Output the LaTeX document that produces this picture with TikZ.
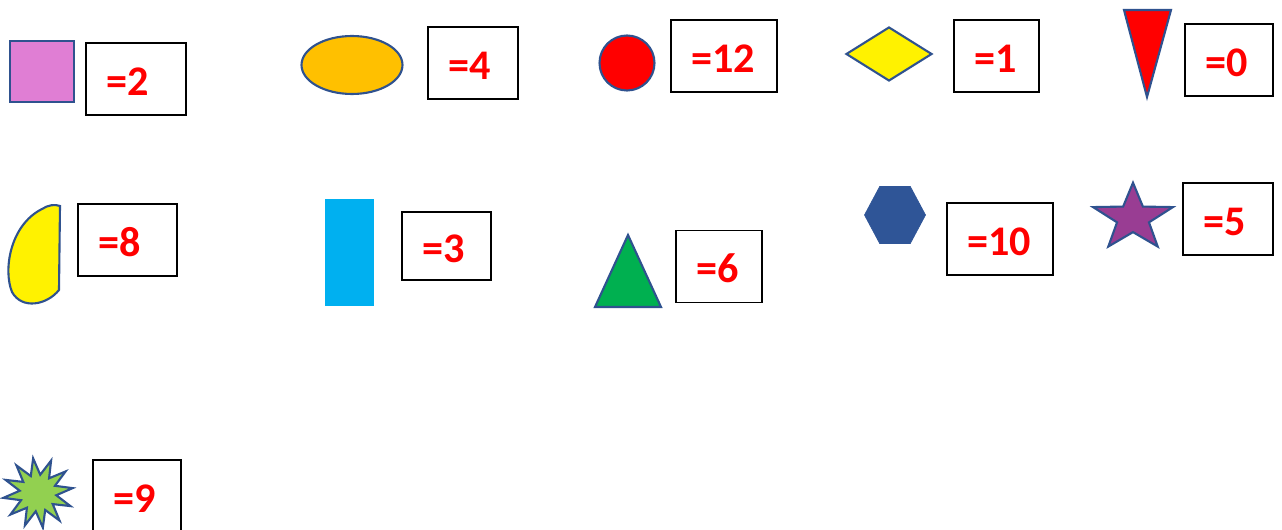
\documentclass[tikz,border=0pt]{standalone}
\usepackage{fontspec}
\setmainfont{Carlito}
\usetikzlibrary{shapes.geometric}

\definecolor{shapeline}{HTML}{2F528F}
\definecolor{orchidfill}{HTML}{E07ED4}
\definecolor{amberfill}{HTML}{FFC000}
\definecolor{skyfill}{HTML}{00B0F0}
\definecolor{leaffill}{HTML}{00B050}
\definecolor{hexfill}{HTML}{2F5597}
\definecolor{plumfill}{HTML}{993D93}
\definecolor{limefill}{HTML}{92D050}

\begin{document}
\begin{tikzpicture}[
  x=0.02cm, y=-0.02cm,
  % outlined shape; fill colour supplied as fig=<colour>
  fig/.style={draw=shapeline, line width=1.2pt, fill=#1, inner sep=0pt},
  % value box; text width supplied as valbox=<width>
  valbox/.style={
    rectangle, draw=black, line width=1.1pt, fill=white,
    text width=#1, align=left, inner xsep=0.4cm,
    minimum height=1.44cm, text=red,
    text height=0.66cm, text depth=0pt,
    font=\fontsize{24}{28}\selectfont\bfseries
  },
]
\useasboundingbox (0,0) rectangle (1282,530);

%% ── Row 1 ─────────────────────────────────────────────────────────────────
\node[fig=orchidfill, rectangle, minimum width=1.28cm, minimum height=1.22cm] (square) at (42,71.5) {};
\node[valbox=1.2cm] (val2) at (136,79) {=2};

\node[fig=amberfill, ellipse, minimum width=2.02cm, minimum height=1.16cm] (oval) at (352,65) {};
\node[valbox=1.0cm] (val4) at (473,63) {=4};

\node[fig=red, circle, minimum size=1.1cm] (disc) at (627,63) {};
\node[valbox=1.32cm] (val12) at (724,56) {=12};

\node[fig=yellow, diamond, minimum width=1.72cm, minimum height=1.08cm] (rhomb) at (889,54) {};
\node[valbox=0.9cm] (val1) at (996.5,56) {=1};

\filldraw[fig=red] (1124,10) -- (1171,10) -- (1147,97) -- cycle;
\node[valbox=0.96cm] (val0) at (1229,60) {=0};

%% ── Row 2 ─────────────────────────────────────────────────────────────────
\filldraw[fig=yellow] (60,206) -- (59,290)
  .. controls (47,305) and (22,310) .. (12,292)
  .. controls (3,270) and (10,225) .. (42,209)
  .. controls (48,205) and (55,204) .. (60,206) -- cycle;
\node[valbox=1.18cm] (val8) at (127.5,240) {=8};

\node[rectangle, fill=skyfill, minimum width=0.98cm, minimum height=2.14cm] (bar) at (349.5,252.5) {};
\node[valbox=0.98cm, minimum height=1.36cm] (val3) at (446.5,246) {=3};

\filldraw[fig=leaffill] (595,307) -- (661,307) -- (628,235) -- cycle;
\node[valbox=0.92cm] (val6) at (719,266.5) {=6};

\begin{scope}[shift={(895,215)}, yscale=1.08]
  \node[regular polygon, regular polygon sides=6, fill=hexfill, draw=hexfill,
        inner sep=0pt, minimum size=1.22cm, transform shape] (hex) at (0,0) {};
\end{scope}
\node[valbox=1.32cm] (val10) at (1000,239) {=10};

\begin{scope}[shift={(1133,218)}, yscale=0.84]
  \node[fig=plumfill, star, star points=5, star point ratio=2.5,
        minimum size=1.68cm, transform shape] (pent) at (0,0) {};
\end{scope}
\node[valbox=1.0cm] (val5) at (1228,219) {=5};

%% ── Row 3 ─────────────────────────────────────────────────────────────────
\node[fig=limefill, star, star points=12, star point ratio=1.9,
      minimum size=1.4cm, rotate=8] (burst) at (38,493) {};
\node[valbox=0.96cm] (val9) at (137,496) {=9};

\end{tikzpicture}
\end{document}
